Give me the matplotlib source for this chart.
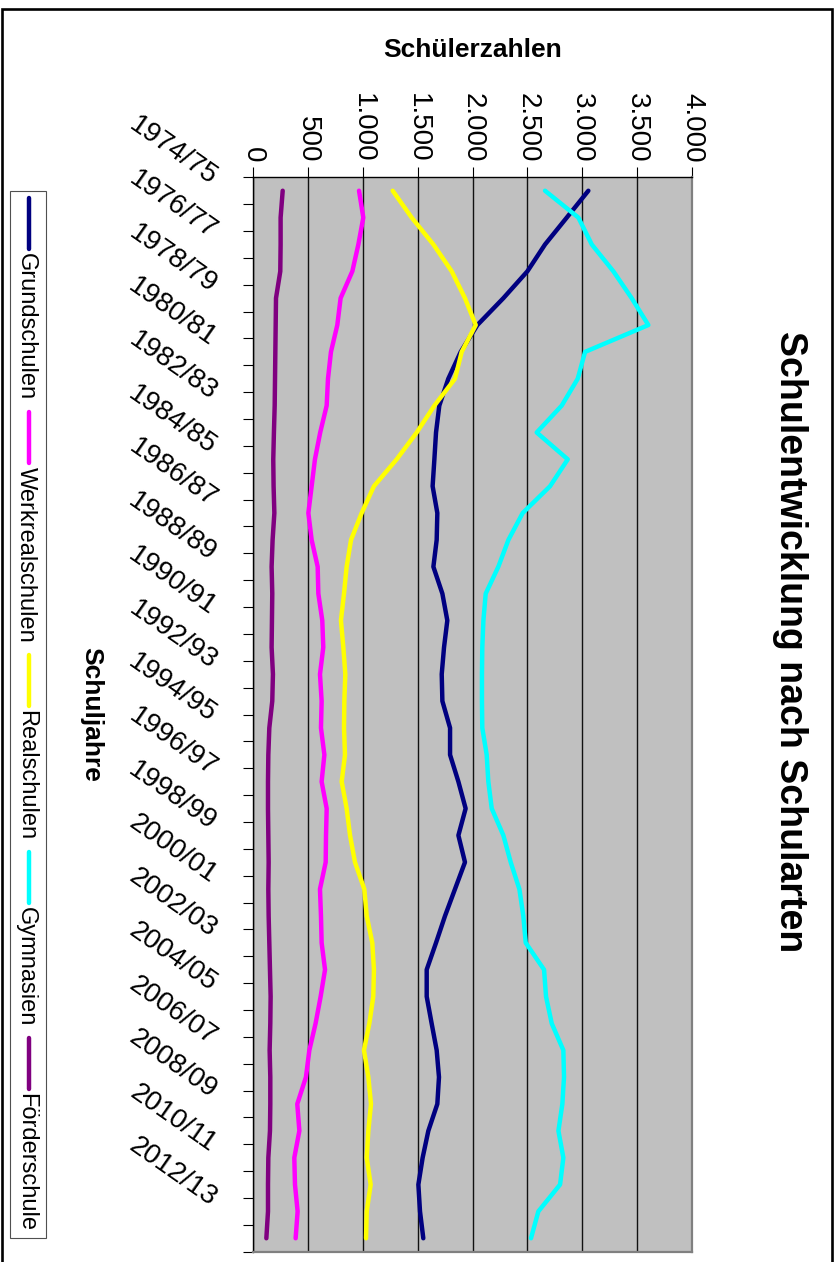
import matplotlib
matplotlib.use('Agg')
import matplotlib.pyplot as plt
from matplotlib.patches import Rectangle
from matplotlib.lines import Line2D
import numpy as np

plt.rcParams['font.family'] = ['Liberation Sans', 'DejaVu Sans']

# ---------------- data ----------------
years = ["1974/75", "1975/76", "1976/77", "1977/78", "1978/79", "1979/80", "1980/81",
         "1981/82", "1982/83", "1983/84", "1984/85", "1985/86", "1986/87", "1987/88",
         "1988/89", "1989/90", "1990/91", "1991/92", "1992/93", "1993/94", "1994/95",
         "1995/96", "1996/97", "1997/98", "1998/99", "1999/00", "2000/01", "2001/02",
         "2002/03", "2003/04", "2004/05", "2005/06", "2006/07", "2007/08", "2008/09",
         "2009/10", "2010/11", "2011/12", "2012/13", "2013/14"]

grundschulen = [3055, 2858, 2660, 2499, 2280, 2043, 1891, 1778, 1696, 1666,
                1651, 1635, 1678, 1672, 1642, 1724, 1769, 1739, 1718, 1724,
                1794, 1794, 1870, 1936, 1870, 1930, 1839, 1748, 1666, 1581,
                1581, 1626, 1672, 1693, 1678, 1596, 1544, 1505, 1520, 1550]
werkrealschulen = [964, 1003, 958, 903, 796, 766, 708, 681, 669, 610,
                   562, 532, 502, 532, 587, 593, 629, 638, 608, 623,
                   617, 648, 623, 669, 663, 660, 608, 617, 623, 654,
                   614, 568, 511, 480, 401, 420, 374, 380, 404, 386]
realschulen = [1271, 1444, 1642, 1809, 1930, 2028, 1900, 1839, 1651, 1490,
               1307, 1100, 988, 891, 851, 827, 799, 821, 839, 830,
               827, 836, 806, 851, 882, 927, 1012, 1034, 1085, 1100,
               1094, 1058, 1009, 1049, 1073, 1049, 1034, 1070, 1034, 1028]
gymnasien = [2660, 2964, 3086, 3283, 3450, 3602, 3025, 2958, 2812, 2584,
             2867, 2706, 2456, 2326, 2234, 2119, 2098, 2088, 2085, 2085,
             2088, 2128, 2143, 2174, 2280, 2347, 2426, 2462, 2484, 2651,
             2669, 2721, 2827, 2833, 2818, 2782, 2827, 2797, 2599, 2532]
foerderschule = [268, 249, 249, 246, 207, 204, 201, 198, 195, 188,
                 182, 185, 192, 176, 167, 173, 170, 167, 179, 173,
                 146, 137, 134, 134, 137, 140, 137, 140, 146, 152,
                 158, 155, 149, 155, 155, 152, 137, 134, 134, 119]

series_names = ["Grundschulen", "Werkrealschulen", "Realschulen", "Gymnasien", "Förderschule"]
series_colors = ["#000080", "#FF00FF", "#FFFF00", "#00FFFF", "#800080"]
value_ticks = [0, 500, 1000, 1500, 2000, 2500, 3000, 3500, 4000]
value_tick_labels = ["0", "500", "1.000", "1.500", "2.000", "2.500", "3.000", "3.500", "4.000"]

title = "Schulentwicklung nach Schularten"
value_title = "Schülerzahlen"
category_title = "Schuljahre"

# ---------------- layout ----------------
W, H = 840, 1262
fig = plt.figure(figsize=(W / 100, H / 100), dpi=100)
fig.patch.set_facecolor('white')

L, R, T, B = 253.3, 692.0, 177.3, 1251.7
ax = fig.add_axes([L / W, 1 - B / H, (R - L) / W, (B - T) / H])
ax.set_facecolor('#C0C0C0')

LW = 3.2
idx = np.arange(len(years))
all_series = [grundschulen, werkrealschulen, realschulen, gymnasien, foerderschule]
for vals, name, col in zip(all_series, series_names, series_colors):
    ax.plot(vals, idx, color=col, lw=LW, solid_capstyle='round',
            solid_joinstyle='round', label=name, zorder=3)

ax.set_xlim(0, 4000)
ax.set_ylim(len(years) - 0.5, -0.5)

# value axis on top
ax.xaxis.tick_top()
ax.set_xticks(value_ticks)
ax.set_xticklabels(value_tick_labels)
ax.tick_params(axis='x', direction='out', length=7.2, width=0.8, color='black',
               pad=3.5, labelsize=20, labelrotation=-90)
for lab in ax.get_xticklabels():
    lab.set_ha('center')
    lab.set_va('bottom')
ax.grid(axis='x', color='#111111', lw=1.0, zorder=1)
ax.set_axisbelow(True)

# category axis
ax.set_yticks(idx[::2])
ax.set_yticklabels(years[::2])
ax.set_yticks(np.arange(-0.5, len(years), 1.0), minor=True)
ax.tick_params(axis='y', which='major', length=0, pad=23, labelsize=20,
               labelrotation=-35)
ax.tick_params(axis='y', which='minor', direction='out', length=7.2, width=0.8,
               color='black')
for lab in ax.get_yticklabels():
    lab.set_ha('right')
    lab.set_va('bottom')

for s in ['left', 'top']:
    ax.spines[s].set_color('black')
    ax.spines[s].set_linewidth(1.0)
for s in ['right', 'bottom']:
    ax.spines[s].set_color('#808080')
    ax.spines[s].set_linewidth(1.6)

# axis titles
ax.xaxis.set_label_position('top')
ax.set_xlabel(value_title, fontsize=19, fontweight='bold')
ax.xaxis.label.set_ha('center')
ax.xaxis.label.set_va('center')
ax.xaxis.set_label_coords(0.5, (B - 50) / (B - T))
ax.set_ylabel(category_title, fontsize=19, fontweight='bold', rotation=-90,
              ha='center', va='center', rotation_mode='default')
ax.yaxis.set_label_coords((91 - L) / (R - L), 0.5)

# chart title
fig.text(790 / W, 1 - 642 / H, title, rotation=-90, fontsize=27,
         fontweight='bold', ha='center', va='center')

# outer frame
fig.add_artist(Rectangle((2 / W, -0.05), (832 - 2) / W, 1.05 - 9.5 / H,
                         transform=fig.transFigure, fill=False,
                         ec='black', lw=1.9))

# rotated legend (drawn manually)
fig.add_artist(Rectangle((10 / W, 1 - 1237.7 / H), 36 / W, (1237.7 - 190.7) / H,
                         transform=fig.transFigure, fc='white', ec='#505050',
                         lw=0.8, zorder=2))
fig.canvas.draw()
renderer = fig.canvas.get_renderer()
y = 198.0
for name, col in zip(series_names, series_colors):
    fig.add_artist(Line2D([29.3 / W, 29.3 / W], [1 - y / H, 1 - (y + 51) / H],
                          transform=fig.transFigure, color=col, lw=LW,
                          solid_capstyle='round', zorder=3))
    t = fig.text(25.8 / W, 1 - (y + 55) / H, name, rotation=-90, fontsize=17,
                 ha='center', va='top', zorder=3)
    bb = t.get_window_extent(renderer)
    y = (y + 55) + bb.height + 12

fig.savefig('out.png', dpi=100, facecolor='white')
